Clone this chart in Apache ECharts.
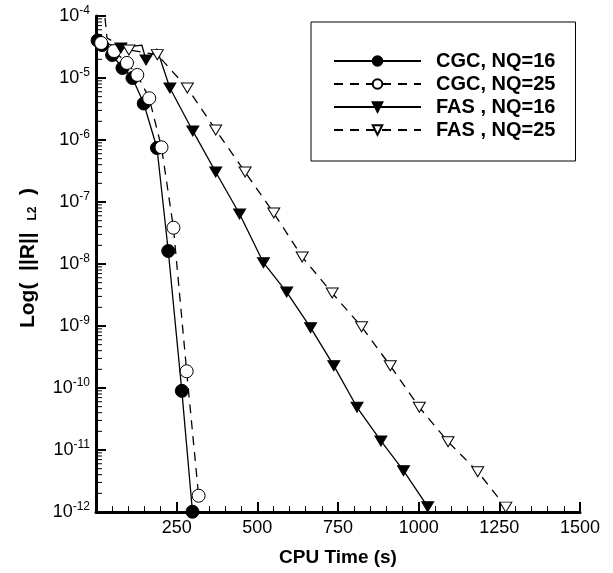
<!DOCTYPE html>
<html>
<head>
<meta charset="utf-8">
<script src="https://cdn.jsdelivr.net/npm/echarts@6/dist/echarts.min.js"></script>
<style>html,body{margin:0;padding:0;background:#fff}#c{width:613px;height:573px}</style>
</head>
<body>
<div id="c"></div>
<script>
// ---- data ----
const seriesNames = ['CGC, NQ=16', 'CGC, NQ=25', 'FAS , NQ=16', 'FAS , NQ=25'];

const cgc16X = [5, 19, 50, 82, 113, 148, 189, 224, 266, 299];
const cgc16Y = [4.03e-5, 3.40e-5, 2.35e-5, 1.45e-5, 1.0e-5, 3.88e-6, 7.43e-7, 1.62e-8, 9.0e-11, 1.01e-12];

const cgc25X = [16, 56, 96, 128, 165, 203, 240, 281, 318];
const cgc25Y = [3.67e-5, 2.72e-5, 1.75e-5, 1.12e-5, 4.71e-6, 7.62e-7, 3.85e-8, 1.86e-10, 1.83e-12];

const fas16X = [9, 77, 142, 155, 189, 229, 300, 371, 445, 519, 591, 665, 737, 809, 883, 953, 1028];
const fas16Y = [3.95e-5, 3.05e-5, 3.40e-5, 1.95e-5, 2.94e-5, 6.90e-6, 1.40e-6, 3.05e-7, 6.40e-8, 1.05e-8, 3.53e-9, 9.39e-10, 2.29e-10, 4.89e-11, 1.40e-11, 4.64e-12, 1.22e-12];
const fas16Unmarked = [0, 2, 4];

const fas25X = [28, 34, 102, 190, 283, 371, 462, 551, 639, 732, 823, 912, 1002, 1091, 1183, 1270];
const fas25Y = [9.29e-5, 4.41e-5, 2.83e-5, 2.38e-5, 6.90e-6, 1.45e-6, 3.05e-7, 6.65e-8, 1.30e-8, 3.40e-9, 9.75e-10, 2.29e-10, 4.89e-11, 1.36e-11, 4.47e-12, 1.20e-12];
const fas25Unmarked = [0, 1];

const xTickLabels = ['250', '500', '750', '1000', '1250', '1500'];
const yDecades = [-12, -11, -10, -9, -8, -7, -6, -5, -4];

// ---- build ----
function pairs(xs, ys, unmarked) {
  return xs.map((x, i) => {
    const d = { value: [x, ys[i]] };
    if (unmarked && unmarked.indexOf(i) >= 0) d.symbol = 'none';
    return d;
  });
}
const minorVals = [];
for (let d = yDecades[0]; d < yDecades[yDecades.length - 1]; d++) {
  for (let k = 2; k <= 9; k++) minorVals.push(k * Math.pow(10, d));
}

const FONT = 'Liberation Sans, Arial, sans-serif';
const downTri = 'path://M0,0 L12,0 L6,10 Z';

const chart = echarts.init(document.getElementById('c'), null, { renderer: 'canvas' });
chart.setOption({
  animation: false,
  backgroundColor: '#fff',
  grid: { left: 96, right: 33, top: 16, bottom: 61, containLabel: false },
  legend: {
    data: seriesNames,
    orient: 'vertical',
    left: 311, top: 22,
    padding: [29, 20, 21, 22],
    borderColor: '#000', borderWidth: 1,
    itemWidth: 87, itemHeight: 12, itemGap: 3,
    textStyle: { fontFamily: FONT, fontWeight: 'bold', fontSize: 20, lineHeight: 20, color: '#000', padding: [0, 0, 0, 10] }
  },
  xAxis: {
    type: 'value', min: 0, max: 1500, interval: 250,
    name: 'CPU Time (s)', nameLocation: 'middle', nameGap: 36,
    nameTextStyle: { fontFamily: FONT, fontWeight: 'bold', fontSize: 19, color: '#000' },
    axisLine: { show: true, onZero: false, lineStyle: { color: '#000', width: 3 } },
    axisTick: { show: true, inside: true, length: 10, lineStyle: { color: '#000', width: 2 } },
    minorTick: { show: true, splitNumber: 5, length: 6, lineStyle: { color: '#000', width: 1 } },
    splitLine: { show: false },
    axisLabel: {
      showMinLabel: false, margin: 7, fontFamily: FONT, fontSize: 18, color: '#000',
      formatter: v => { const i = Math.round(v / 250) - 1; return i >= 0 ? xTickLabels[i] : ''; }
    }
  },
  yAxis: {
    type: 'log', logBase: 10, min: 1e-12, max: 1e-4,
    name: 'Log(  ||R||  {sub|L2}  )', nameLocation: 'middle', nameGap: 57, nameRotate: 90,
    nameTextStyle: {
      fontFamily: FONT, fontWeight: 'bold', fontSize: 21, color: '#000', padding: [0, 0, 0, 12],
      rich: { sub: { fontFamily: FONT, fontWeight: 'bold', fontSize: 12, color: '#000', padding: [10, 0, 0, 0] } }
    },
    axisLine: { show: true, onZero: false, lineStyle: { color: '#000', width: 3 } },
    axisTick: { show: true, inside: true, length: 10, lineStyle: { color: '#000', width: 2 } },
    splitLine: { show: false },
    axisLabel: {
      margin: 6, color: '#000',
      formatter: v => '{b|10}{s|' + Math.round(Math.log10(v)) + '}',
      rich: {
        b: { fontFamily: FONT, fontSize: 18, color: '#000' },
        s: { fontFamily: FONT, fontSize: 12, color: '#000', padding: [0, 0, 11, 0] }
      }
    }
  },
  series: [
    {
      name: seriesNames[0], type: 'line', data: pairs(cgc16X, cgc16Y),
      symbol: 'circle', symbolSize: 13, showAllSymbol: true,
      lineStyle: { color: '#000', width: 1.3 },
      itemStyle: { color: '#000', borderColor: '#000', borderWidth: 1 }
    },
    {
      name: seriesNames[1], type: 'line', data: pairs(cgc25X, cgc25Y),
      symbol: 'circle', symbolSize: 13, showAllSymbol: true,
      lineStyle: { color: '#000', width: 1.3, type: [9, 7] },
      itemStyle: { color: '#fff', borderColor: '#000', borderWidth: 1 }
    },
    {
      name: seriesNames[2], type: 'line', data: pairs(fas16X, fas16Y, fas16Unmarked),
      symbol: downTri, symbolSize: [12, 10], showAllSymbol: true,
      lineStyle: { color: '#000', width: 1.3 },
      itemStyle: { color: '#000', borderColor: '#000', borderWidth: 1 }
    },
    {
      name: seriesNames[3], type: 'line', data: pairs(fas25X, fas25Y, fas25Unmarked),
      symbol: downTri, symbolSize: [12, 10], showAllSymbol: true,
      lineStyle: { color: '#000', width: 1.3, type: [9, 7] },
      itemStyle: { color: '#fff', borderColor: '#000', borderWidth: 1 }
    },
    {
      type: 'custom', silent: true, data: minorVals, clip: false,
      encode: { y: 0 },
      renderItem: (params, api) => {
        const p = api.coord([0, api.value(0)]);
        return { type: 'line', shape: { x1: p[0], y1: p[1], x2: p[0] + 6, y2: p[1] }, style: { stroke: '#000', lineWidth: 1 } };
      }
    }
  ]
});
</script>
</body>
</html>
